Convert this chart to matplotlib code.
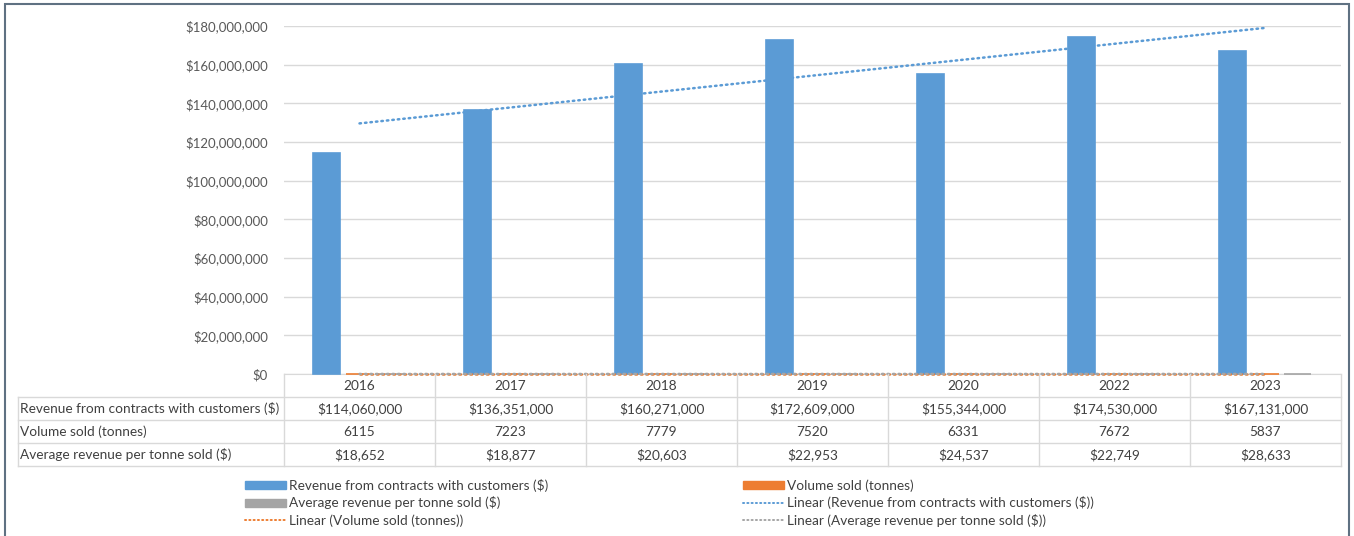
import numpy as np
import matplotlib
matplotlib.use("Agg")
import matplotlib.pyplot as plt
from matplotlib.patches import Patch, Rectangle
from matplotlib.lines import Line2D
from matplotlib.ticker import FuncFormatter

years = ["2016", "2017", "2018", "2019", "2020", "2022", "2023"]
revenue = [114060000, 136351000, 160271000, 172609000, 155344000, 174530000, 167131000]
volume = [6115, 7223, 7779, 7520, 6331, 7672, 5837]
avg_rev = [18652, 18877, 20603, 22953, 24537, 22749, 28633]

series_names = ["Revenue from contracts with customers ($)",
                "Volume sold (tonnes)",
                "Average revenue per tonne sold ($)"]
colors = ["#5B9BD5", "#ED7D31", "#A5A5A5"]

W, H = 1354, 536
FONT = "Lato"
TXT = "#404040"
GRID = "#D9D9D9"
FS = 9.8

plt.rcParams['font.family'] = [FONT, 'DejaVu Sans']

fig = plt.figure(figsize=(W / 100, H / 100), dpi=100)

def fx(px):
    return px / W

def fy(py):
    return 1 - py / H

# main plot area
ax = fig.add_axes([fx(284), fy(374), fx(1341) - fx(284), fy(26) - fy(374)])
x = np.arange(len(years))
offsets = [-0.22, 0.0, 0.21]
width = 0.18
data = [revenue, volume, avg_rev]
for vals, off, c in zip(data, offsets, colors):
    ax.bar(x + off, vals, width, color=c, edgecolor=c, linewidth=1.2,
           zorder=3, clip_on=False)

# linear trend lines
for vals, c in zip(data, colors):
    k, b = np.polyfit(x + 1, vals, 1)
    ax.plot(x, k * (x + 1) + b, color=c, lw=1.8, ls=(0, (0.6, 1.6)),
            dash_capstyle="round", zorder=4, clip_on=False)

ax.set_xlim(-0.5, len(years) - 0.5)
ax.set_ylim(0, 180000000)
ax.set_yticks(np.arange(0, 180000001, 20000000))
ax.yaxis.set_major_formatter(FuncFormatter(lambda v, p: "${:,.0f}".format(v)))
ax.set_xticks([])
ax.tick_params(axis="y", length=0, pad=11.5, labelsize=9.5, labelcolor="#595959")
ax.grid(axis="y", color=GRID, lw=1, zorder=0)
for s in ["left", "right", "top"]:
    ax.spines[s].set_visible(False)
ax.spines["bottom"].set_color(GRID)

# data table under the plot
col_w = (1341 - 284) / len(years)
left = -0.5 - (284 - 18) / col_w
tx = fig.add_axes([fx(18), fy(466), fx(1341) - fx(18), fy(374) - fy(466)])
tx.set_xlim(left, len(years) - 0.5)
tx.set_ylim(4, 0)
tx.axis("off")
for r in range(1, 5):
    tx.plot([left, len(years) - 0.5], [r, r], color=GRID, lw=1, clip_on=False)
tx.plot([left, left], [1, 4], color=GRID, lw=1, clip_on=False)
for i in range(len(years) + 1):
    tx.plot([i - 0.5, i - 0.5], [0, 4], color=GRID, lw=1, clip_on=False)

rows = [["${:,.0f}".format(v) for v in revenue],
        [str(v) for v in volume],
        ["${:,.0f}".format(v) for v in avg_rev]]
for i, yr in enumerate(years):
    tx.text(i, 0.5, yr, ha="center", va="center", fontsize=FS, color=TXT)
for r, (name, vals) in enumerate(zip(series_names, rows)):
    tx.text(left + 0.015, r + 1.5, name, ha="left", va="center", fontsize=FS, color=TXT)
    for i, v in enumerate(vals):
        tx.text(i, r + 1.5, v, ha="center", va="center", fontsize=FS, color=TXT)

# legend in two columns
def trend_handle(c):
    return Line2D([], [], color=c, lw=1.4, ls=(0, (0.6, 1.6)), dash_capstyle="round")

h_left = [Patch(color=colors[0]), Patch(color=colors[2]), trend_handle(colors[1])]
l_left = [series_names[0], series_names[2], "Linear (Volume sold (tonnes))"]
h_right = [Patch(color=colors[1]), trend_handle(colors[0]), trend_handle(colors[2])]
l_right = [series_names[1], "Linear (Revenue from contracts with customers ($))",
           "Linear (Average revenue per tonne sold ($))"]
for hs, ls_, px in [(h_left, l_left, 245), (h_right, l_right, 743)]:
    fig.legend(hs, ls_, loc="upper left", bbox_to_anchor=(fx(px), fy(479)),
               frameon=False, fontsize=FS, labelcolor=TXT, borderpad=0,
               borderaxespad=0, handlelength=3.0, handleheight=0.5,
               handletextpad=0.25, labelspacing=0.33)

# outer frame
fig.patches.append(Rectangle((fx(5.5), fy(560)), fx(1348.5) - fx(5.5), fy(4) - fy(560),
                             transform=fig.transFigure, fill=False,
                             edgecolor="#5F7182", lw=1.5))

fig.savefig("out.png", dpi=100)
